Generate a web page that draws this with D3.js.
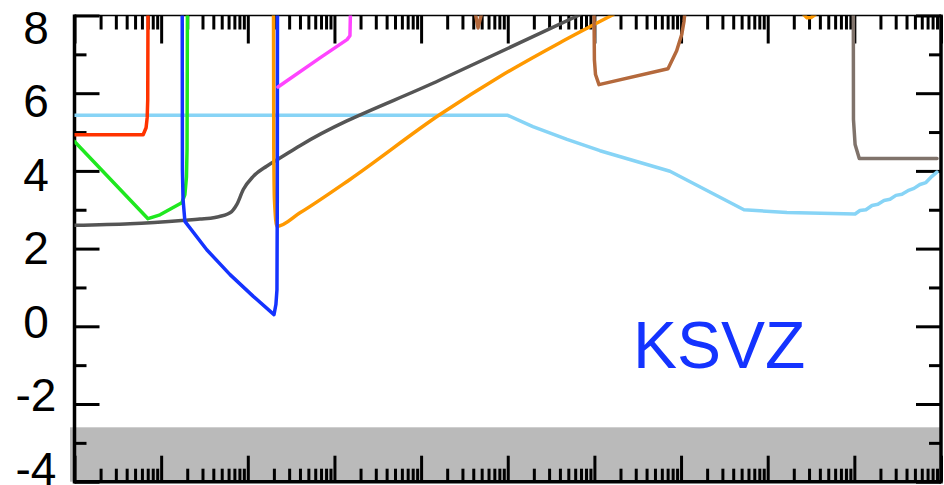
<!DOCTYPE html>
<html>
<head>
<meta charset="utf-8">
<script src="https://cdn.jsdelivr.net/npm/d3@7"></script>
<style>
  body { margin: 0; background: #fff; }
  svg { display: block; font-family: "Liberation Sans", Arial, sans-serif; }
</style>
</head>
<body>
<div id="chart"></div>
<script>
// y tick values
const yMajorTicks = [-4, -2, 0, 2, 4, 6, 8];
const yMinorTicks = [-3, -1, 1, 3, 5, 7];
const bandTop = -2.6;
const label = "KSVZ";

// curves, [x, y]
const red = [[1.0, 4.93], [6.2, 4.93], [6.7, 5.11], [6.9, 5.37], [7.0, 5.83], [7.05, 8.1]];
const green = [[1.0, 4.76], [7.05, 2.77], [9.7, 2.87], [17.3, 3.18], [18.8, 3.39], [19.6, 3.85], [19.9, 4.55], [20.1, 8.1]];
const blue = [[17.5, 8.1], [17.6, 4.03], [17.9, 3.26], [18.8, 2.70], [33.6, 1.97], [62.4, 1.33], [115.7, 0.77],
              [200.5, 0.30], [211, 0.56], [217, 0.94], [219, 3.26], [220, 8.1]];
const orange = [[198, 8.1], [199.5, 4.55], [203, 3.26], [217, 2.57], [400, 2.92], [1510, 3.78], [16500, 5.45],
                [81300, 6.43], [4.0e5, 7.30], [1.64e6, 8.02]];
const orangeTop = [[2.62e8, 8.02], [2.84e8, 7.94], [3.16e8, 7.95], [3.52e8, 8.02]];
const darkGray = [[1.0, 2.60], [4.37, 2.64], [18.8, 2.73], [28, 2.76], [41.8, 2.80], [62.4, 2.92], [74.5, 3.13],
                  [88.7, 3.52], [115.7, 3.86], [165, 4.12], [235, 4.33], [400, 4.65], [16500, 6.34], [6.8e5, 8.02]];
const pink = [[223, 6.16], [681, 6.91], [1396, 7.38], [1510, 7.48], [1530, 8.1]];
const lightBlue = [[1.0, 5.43], [1.0e5, 5.43], [1.95e5, 5.14], [4.83e5, 4.81], [1.16e6, 4.52], [7.45e6, 3.99],
                   [5.32e7, 3.00], [1.67e8, 2.93], [1.02e9, 2.89], [1.16e9, 2.98], [1.36e9, 3.00], [1.60e9, 3.11],
                   [1.87e9, 3.14], [2.20e9, 3.24], [2.58e9, 3.27], [3.02e9, 3.37], [3.54e9, 3.40], [4.15e9, 3.49],
                   [4.88e9, 3.55], [5.71e9, 3.65], [6.70e9, 3.70], [7.86e9, 3.86], [8.97e9, 3.97]];
const brownV = [[4.19e4, 8.1], [4.54e4, 7.68], [5.05e4, 8.1]];
const brown = [[9.9e5, 8.1], [1.0e6, 6.86], [1.03e6, 6.48], [1.13e6, 6.22], [7.07e6, 6.63], [8.9e6, 7.09],
               [1.02e7, 7.52], [1.08e7, 7.84], [1.11e7, 8.1]];
const grayBrown = [[9.73e8, 8.1], [9.77e8, 5.32], [1.02e9, 4.68], [1.14e9, 4.32], [9.0e9, 4.32]];

const series = [
    { data: lightBlue, color: "#87d4f6" },
    { data: red, color: "#ff3300" },
    { data: green, color: "#1fe81f" },
    { data: darkGray, color: "#555555", smooth: true },
    { data: orange, color: "#ff9900", smooth: true },
    { data: orangeTop, color: "#ff9900" },
    { data: blue, color: "#1433ff" },
    { data: pink, color: "#ff44ff" },
    { data: brownV, color: "#b4693c" },
    { data: brown, color: "#b4693c" },
    { data: grayBrown, color: "#80736b" }
];

const width = 944, height = 485;
const mLeft = 74.5, mRight = 941, mTop = 15.5, mBottom = 481.7;

const svg = d3.select("#chart").append("svg")
    .attr("width", width)
    .attr("height", height);

const x = d3.scaleLog().domain([1, 1e10]).range([mLeft, mRight]);
const y = d3.scaleLinear().domain([-4, 8]).range([mBottom, mTop]);
// tick labels sit a bit off the ticks in the original
const yLab = d3.scaleLinear().domain([-4, 8]).range([468, 27]);

// grey band at the bottom
svg.append("rect")
    .attr("x", 70)
    .attr("y", y(bandTop))
    .attr("width", mRight - 70)
    .attr("height", mBottom - y(bandTop))
    .attr("fill", "#bababa");

svg.append("clipPath").attr("id", "clip")
    .append("rect")
    .attr("x", mLeft).attr("y", mTop)
    .attr("width", mRight - mLeft).attr("height", mBottom - mTop);

const line = d3.line()
    .x(d => x(d[0]))
    .y(d => y(d[1]));
const smoothLine = d3.line()
    .x(d => x(d[0]))
    .y(d => y(d[1]))
    .curve(d3.curveMonotoneX);

// axes ticks
const allX = x.ticks(100);
const xMajor = allX.filter(t => Math.abs(Math.log10(t) - Math.round(Math.log10(t))) < 1e-9);
const xMinor = allX.filter(t => !xMajor.includes(t));

function styleAxis(g) {
    g.select(".domain").remove();
    g.selectAll(".tick line").attr("stroke", "#000").attr("stroke-width", 3);
    g.selectAll(".tick text").remove();
}

svg.append("g").attr("transform", `translate(0,${mBottom})`)
    .call(d3.axisBottom(x).tickValues(xMajor).tickSize(-26).tickFormat("")).call(styleAxis);
svg.append("g").attr("transform", `translate(0,${mBottom})`)
    .call(d3.axisBottom(x).tickValues(xMinor).tickSize(-13).tickFormat("")).call(styleAxis);
svg.append("g").attr("transform", `translate(0,${mTop})`)
    .call(d3.axisTop(x).tickValues(xMajor).tickSize(-28).tickFormat("")).call(styleAxis);
svg.append("g").attr("transform", `translate(0,${mTop})`)
    .call(d3.axisTop(x).tickValues(xMinor).tickSize(-14).tickFormat("")).call(styleAxis);
svg.append("g").attr("transform", `translate(${mLeft},0)`)
    .call(d3.axisLeft(y).tickValues(yMajorTicks).tickSize(-25).tickFormat("")).call(styleAxis);
svg.append("g").attr("transform", `translate(${mLeft},0)`)
    .call(d3.axisLeft(y).tickValues(yMinorTicks).tickSize(-12).tickFormat("")).call(styleAxis);
svg.append("g").attr("transform", `translate(${mRight},0)`)
    .call(d3.axisRight(y).tickValues(yMajorTicks).tickSize(-25).tickFormat("")).call(styleAxis);
svg.append("g").attr("transform", `translate(${mRight},0)`)
    .call(d3.axisRight(y).tickValues(yMinorTicks).tickSize(-12).tickFormat("")).call(styleAxis);

// frame
svg.append("line").attr("x1", mLeft).attr("x2", mRight).attr("y1", mTop).attr("y2", mTop)
    .attr("stroke", "#000").attr("stroke-width", 1.5);
svg.append("line").attr("x1", mLeft).attr("x2", mRight).attr("y1", mBottom).attr("y2", mBottom)
    .attr("stroke", "#000").attr("stroke-width", 3.5);
svg.append("line").attr("x1", mLeft).attr("x2", mLeft).attr("y1", mTop - 1).attr("y2", mBottom + 1.7)
    .attr("stroke", "#000").attr("stroke-width", 3.5);
svg.append("line").attr("x1", mRight).attr("x2", mRight).attr("y1", mTop - 1).attr("y2", mBottom + 1.7)
    .attr("stroke", "#000").attr("stroke-width", 3.5);

// curves on top of the ticks
const plot = svg.append("g").attr("clip-path", "url(#clip)");
series.forEach(s => {
    plot.append("path")
        .attr("d", (s.smooth ? smoothLine : line)(s.data))
        .attr("fill", "none")
        .attr("stroke", s.color)
        .attr("stroke-width", 3.5)
        .attr("stroke-linejoin", "round")
        .attr("stroke-linecap", "round");
});

// y labels
svg.append("g").selectAll("text")
    .data(yMajorTicks)
    .enter()
    .append("text")
    .attr("x", 36)
    .attr("y", d => yLab(d))
    .attr("dy", "0.36em")
    .attr("text-anchor", "middle")
    .attr("font-size", 46)
    .attr("fill", "#000")
    .text(d => d);

svg.append("text")
    .attr("x", 633)
    .attr("y", 367.7)
    .attr("font-size", 66)
    .attr("fill", "#1433ff")
    .text(label);
</script>
</body>
</html>
